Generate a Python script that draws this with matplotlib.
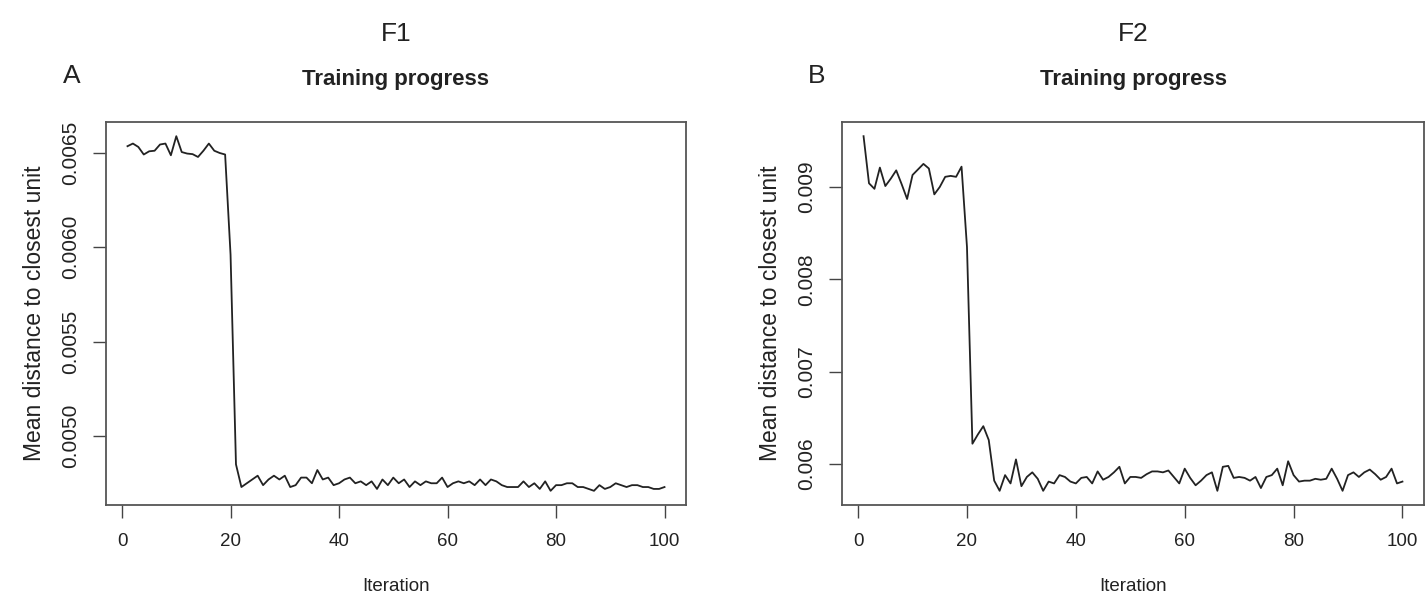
import numpy as np
import matplotlib.pyplot as plt

plt.rcParams['font.family'] = ['Liberation Sans', 'DejaVu Sans']

# ------------------------------- Data ---------------------------------
iteration = np.arange(1, 101)

# F1: mean distance to closest unit
f1_dist = [
    0.006534, 0.006548, 0.006530, 0.006490, 0.006507, 0.006510, 0.006543, 0.006548, 0.006486, 0.006587,
    0.006503, 0.006495, 0.006492, 0.006477, 0.006510, 0.006548, 0.006510, 0.006498, 0.006490, 0.005960,
    0.004850, 0.004730, 0.004750, 0.004770, 0.004790, 0.004740, 0.004770, 0.004790, 0.004770, 0.004790,
    0.004730, 0.004740, 0.004780, 0.004780, 0.004750, 0.004820, 0.004770, 0.004780, 0.004740, 0.004750,
    0.004770, 0.004780, 0.004750, 0.004760, 0.004740, 0.004760, 0.004720, 0.004770, 0.004740, 0.004780,
    0.004750, 0.004770, 0.004730, 0.004760, 0.004740, 0.004760, 0.004750, 0.004750, 0.004780, 0.004730,
    0.004750, 0.004760, 0.004750, 0.004760, 0.004740, 0.004770, 0.004740, 0.004770, 0.004760, 0.004740,
    0.004730, 0.004730, 0.004730, 0.004760, 0.004730, 0.004750, 0.004720, 0.004760, 0.004710, 0.004740,
    0.004740, 0.004750, 0.004750, 0.004730, 0.004730, 0.004720, 0.004710, 0.004740, 0.004720, 0.004730,
    0.004750, 0.004740, 0.004730, 0.004740, 0.004740, 0.004730, 0.004730, 0.004720, 0.004720, 0.004730,
]

# F2: mean distance to closest unit
f2_dist = [
    0.00955, 0.00904, 0.00898, 0.00921, 0.00901, 0.00909, 0.00918, 0.00903, 0.00887, 0.00913,
    0.00919, 0.00925, 0.00920, 0.00892, 0.00900, 0.00911, 0.00912, 0.00911, 0.00922, 0.00835,
    0.00622, 0.00632, 0.00641, 0.00626, 0.00582, 0.00571, 0.00588, 0.00579, 0.00605, 0.00576,
    0.00586, 0.00591, 0.00584, 0.00571, 0.00581, 0.00579, 0.00588, 0.00586, 0.00581, 0.00579,
    0.00585, 0.00586, 0.00579, 0.00592, 0.00583, 0.00586, 0.00591, 0.00597, 0.00579, 0.00586,
    0.00586, 0.00585, 0.00589, 0.00592, 0.00592, 0.00591, 0.00593, 0.00586, 0.00579, 0.00595,
    0.00585, 0.00577, 0.00582, 0.00588, 0.00591, 0.00571, 0.00597, 0.00598, 0.00585, 0.00586,
    0.00585, 0.00582, 0.00586, 0.00574, 0.00586, 0.00588, 0.00595, 0.00577, 0.00603, 0.00588,
    0.00581, 0.00582, 0.00582, 0.00584, 0.00583, 0.00584, 0.00595, 0.00584, 0.00571, 0.00588,
    0.00591, 0.00586, 0.00591, 0.00594, 0.00589, 0.00583, 0.00586, 0.00595, 0.00579, 0.00581,
]

x_ticks = [0, 20, 40, 60, 80, 100]
f1_yticks = [0.0050, 0.0055, 0.0060, 0.0065]
f1_ylabels = ['0.0050', '0.0055', '0.0060', '0.0065']
f2_yticks = [0.006, 0.007, 0.008, 0.009]
f2_ylabels = ['0.006', '0.007', '0.008', '0.009']

# ------------------------------- Figure -------------------------------
W, H = 1426, 605
fig = plt.figure(figsize=(W / 100, H / 100), dpi=100)


def px_axes(x0, y0, x1, y1):
    # axes from pixel box (top-left origin)
    return fig.add_axes([x0 / W, 1 - y1 / H, (x1 - x0) / W, (y1 - y0) / H])


def r_style(ax, y, yticks, ylabels):
    ax.plot(iteration, y, color='#222222', linewidth=1.3)
    # R style 4% padding
    ax.set_xlim(1 - 0.04 * 99, 100 + 0.04 * 99)
    r = max(y) - min(y)
    ax.set_ylim(min(y) - 0.04 * r, max(y) + 0.04 * r)
    ax.set_xticks(x_ticks)
    ax.set_yticks(yticks)
    ax.set_yticklabels(ylabels, rotation=90, va='center', fontsize=15)
    ax.tick_params(direction='out', length=9.5, width=1.0, color='#444444',
                   labelcolor='#222222')
    ax.tick_params(axis='x', pad=11, labelsize=13.5)
    ax.tick_params(axis='y', pad=9)
    for s in ax.spines.values():
        s.set_color('#555555')
        s.set_linewidth(1.3)
    ax.set_xlabel('Iteration', fontsize=13.5, labelpad=20, color='#222222')
    ax.set_ylabel('Mean distance to closest unit', fontsize=16.5, labelpad=11, color='#222222')
    ax.set_title('Training progress', fontsize=16, fontweight='bold', pad=27, color='#222222')


ax1 = px_axes(106, 122, 686, 505)
r_style(ax1, f1_dist, f1_yticks, f1_ylabels)
ax2 = px_axes(842, 122, 1424, 505)
r_style(ax2, f2_dist, f2_yticks, f2_ylabels)

fig.text(396 / W, 1 - 34 / H, 'F1', fontsize=19, ha='center', va='center', color='#222222')
fig.text(1133 / W, 1 - 34 / H, 'F2', fontsize=19, ha='center', va='center', color='#222222')
fig.text(72 / W, 1 - 76 / H, 'A', fontsize=19, ha='center', va='center', color='#222222')
fig.text(817 / W, 1 - 76 / H, 'B', fontsize=19, ha='center', va='center', color='#222222')

fig.savefig('out.png', dpi=100, facecolor='white')
